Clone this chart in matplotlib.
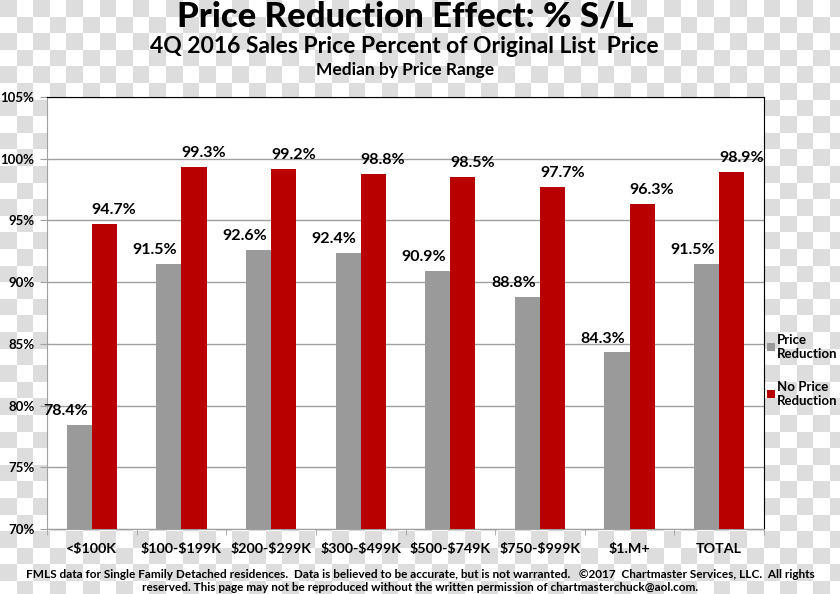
import matplotlib
matplotlib.use("Agg")
import matplotlib.pyplot as plt
import numpy as np

plt.rcParams["text.parse_math"] = False

# data
CATEGORIES = ["<$100K", "$100-$199K", "$200-$299K", "$300-$499K",
              "$500-$749K", "$750-$999K", "$1.M+", "TOTAL"]
PRICE_REDUCTION = [78.4, 91.5, 92.6, 92.4, 90.9, 88.8, 84.3, 91.5]
NO_PRICE_REDUCTION = [94.7, 99.3, 99.2, 98.8, 98.5, 97.7, 96.3, 98.9]
Y_TICKS = [70, 75, 80, 85, 90, 95, 100, 105]

GRAY = "#9a9a9a"
RED = "#b80000"
FONT = "Lato"

FIG = plt.figure(figsize=(8.4, 5.94), dpi=100)

# checkered background, as in the reference image
BG = FIG.add_axes([0, 0, 1, 1], zorder=-10)
SQ = 16.6
NX, NY = int(840 / SQ) + 1, int(594 / SQ) + 1
CHECK = (np.add.outer(np.arange(NY), np.arange(NX)) % 2).astype(float)
BG.imshow(CHECK, cmap="gray", vmin=-6.5, vmax=1, interpolation="nearest",
          extent=[0, NX * SQ, NY * SQ, 0], aspect="auto")
BG.set_xlim(0, 840)
BG.set_ylim(594, 0)
BG.axis("off")

AX = FIG.add_axes([47 / 840, 1 - 529 / 594, (764 - 47) / 840, (529 - 97) / 594])
AX.set_facecolor("white")

X = np.arange(len(CATEGORIES))
W = 0.28
AX.bar(X - W / 2, PRICE_REDUCTION, W, color=GRAY, zorder=3, label="Price\nReduction")
AX.bar(X + W / 2, NO_PRICE_REDUCTION, W, color=RED, zorder=3, label="No Price\nReduction")

for i in range(len(CATEGORIES)):
    AX.annotate(f"{PRICE_REDUCTION[i]:.1f}%", (X[i] - W / 2, PRICE_REDUCTION[i]),
                xytext=(-10, 5), textcoords="offset points", ha="center", va="bottom",
                fontsize=11.5, fontweight="bold", family=FONT)
    AX.annotate(f"{NO_PRICE_REDUCTION[i]:.1f}%", (X[i] + W / 2, NO_PRICE_REDUCTION[i]),
                xytext=(7, 5), textcoords="offset points", ha="center", va="bottom",
                fontsize=11.5, fontweight="bold", family=FONT)

AX.set_ylim(70, 105)
AX.set_xlim(-0.5, len(CATEGORIES) - 0.5)
AX.set_yticks(Y_TICKS)
AX.set_yticklabels([f"{t}%" for t in Y_TICKS], fontsize=9.5, fontweight="bold", family=FONT)
AX.yaxis.grid(True, color="#a0a0a0", linewidth=1, zorder=0)
AX.tick_params(axis="y", length=5, color="#a0a0a0", pad=4)

AX.set_xticks(X)
AX.set_xticklabels(CATEGORIES, fontsize=10.3, fontweight="bold", family=FONT)
AX.set_xticks(np.arange(-0.5, len(CATEGORIES)), minor=True)
AX.tick_params(axis="x", which="major", length=0, pad=10)
AX.tick_params(axis="x", which="minor", length=4, color="#a0a0a0")

AX.spines["left"].set_color("#a0a0a0")
AX.spines["bottom"].set_color("#a0a0a0")
AX.spines["top"].set_color("black")
AX.spines["right"].set_color("black")

LEG = AX.legend(loc="upper left", bbox_to_anchor=(1.0, 0.46), frameon=False,
                prop={"family": FONT, "weight": "bold", "size": 9.5},
                handlelength=0.55, handleheight=0.55, handletextpad=0.2,
                labelspacing=1.6, borderaxespad=0.05, borderpad=0.2)

FIG.text(0.482, 0.973, "Price Reduction Effect: % S/L", ha="center", va="center",
         fontsize=25, fontweight="black", family=FONT)
FIG.text(0.481, 0.922, "4Q 2016 Sales Price Percent of Original List  Price",
         ha="center", va="center", fontsize=16.5, fontweight="bold", family=FONT)
FIG.text(0.482, 0.882, "Median by Price Range", ha="center", va="center",
         fontsize=12.5, fontweight="bold", family=FONT)

FIG.text(0.5, 0.022,
         "FMLS data for Single Family Detached residences.  Data is believed to be accurate, "
         "but is not warranted.   \u00a92017  Chartmaster Services, LLC.  All rights\n"
         "reserved. This page may not be reproduced without the written permission of "
         "chartmasterchuck@aol.com.",
         ha="center", va="center", fontsize=8.5, fontweight="bold", family=FONT,
         linespacing=1.2)

FIG.savefig("out.png", dpi=100)
